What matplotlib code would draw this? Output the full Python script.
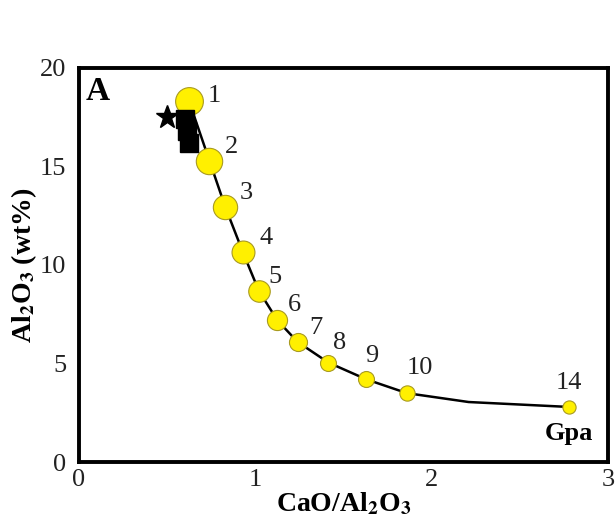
import matplotlib.pyplot as plt

plt.rcParams['font.family'] = ['Liberation Serif', 'DejaVu Serif']
plt.rcParams['mathtext.fontset'] = 'stix'

# melt compositions along the pressure path (GPa labels)
pressure_labels = ['1', '2', '3', '4', '5', '6', '7', '8', '9', '10', '14']
cao_al2o3 = [0.625, 0.74, 0.83, 0.93, 1.02, 1.125, 1.24, 1.415, 1.63, 1.86, 2.78]
al2o3 = [18.3, 15.3, 12.95, 10.65, 8.7, 7.2, 6.1, 5.05, 4.2, 3.5, 2.8]

# curve through the points (one extra vertex between 10 and 14 GPa)
curve_x = [0.625, 0.74, 0.83, 0.93, 1.02, 1.125, 1.24, 1.415, 1.63, 1.86, 2.21, 2.78]
curve_y = [18.3, 15.3, 12.95, 10.65, 8.7, 7.2, 6.1, 5.05, 4.2, 3.5, 3.05, 2.8]

# samples
star_x = [0.50]
star_y = [17.5]
square_x = [0.60, 0.615, 0.625]
square_y = [17.4, 16.8, 16.2]

# marker diameters (points) and label offsets
msizes = [20, 19, 17.5, 16.5, 15.5, 14.5, 13, 11.5, 11.5, 11, 9.5]
offsets = [(18, 4), (16, 10), (15, 10), (17, 10), (12, 10), (12, 11), (13, 10),
           (8, 14), (4, 17), (9, 18), (0, 17)]

fig = plt.figure(figsize=(6.16, 5.30), dpi=100)
ax = fig.add_axes([0.128, 0.128, 0.859, 0.744])

ax.plot(curve_x, curve_y, color='black', lw=1.8, zorder=2)
for x, y, s in zip(cao_al2o3, al2o3, msizes):
    ax.plot(x, y, 'o', ms=s, mfc='#FFF000', mec='#A89A20', mew=0.8, zorder=3)
ax.plot(square_x, square_y, 's', color='black', ms=13, zorder=4)
ax.plot(star_x, star_y, '*', color='black', ms=17, zorder=4)

for x, y, lab, off in zip(cao_al2o3, al2o3, pressure_labels, offsets):
    ax.annotate(lab, (x, y), xytext=off, textcoords='offset points',
                ha='center', va='center', fontsize=19, color='#222222')

ax.annotate('Gpa', (cao_al2o3[-1], al2o3[-1]), xytext=(0, -19),
            textcoords='offset points', ha='center', va='center',
            fontsize=19, fontweight='bold')
ax.text(0.012, 0.98, 'A', transform=ax.transAxes, ha='left', va='top',
        fontsize=24, fontweight='bold')

ax.set_xlim(0, 3)
ax.set_ylim(0, 20)
ax.set_xticks([0, 1, 2, 3])
ax.set_yticks([0, 5, 10, 15, 20])
ax.tick_params(length=0, labelsize=19, colors='#222222')
ax.tick_params(axis='x', pad=5)
ax.tick_params(axis='y', pad=9)
for sp in ax.spines.values():
    sp.set_linewidth(2.8)

ax.set_xlabel(r'CaO/Al$_\mathbf{2}$O$_\mathbf{3}$', fontsize=20, fontweight='bold', labelpad=0)
ax.set_ylabel(r'Al$_\mathbf{2}$O$_\mathbf{3}$ (wt%)', fontsize=20, fontweight='bold', labelpad=1)

fig.savefig('out.png', dpi=100)
